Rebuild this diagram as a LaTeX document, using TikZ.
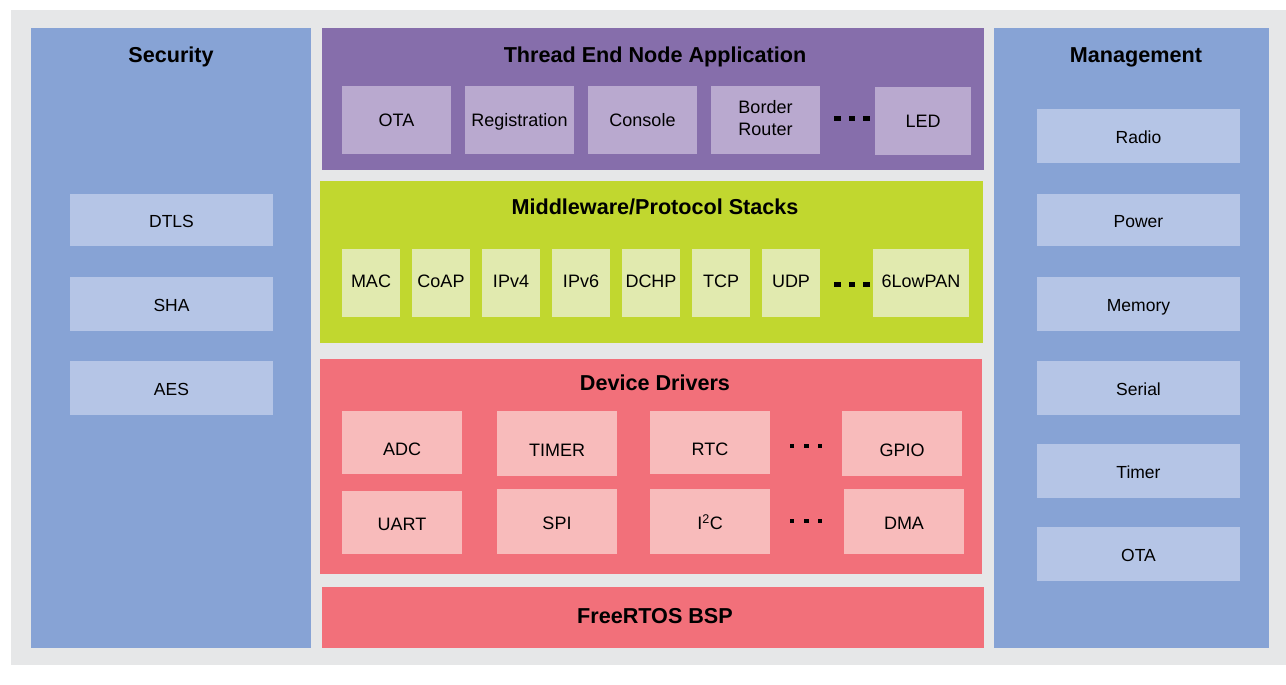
\documentclass[tikz,border=0pt]{standalone}
\usepackage{fontspec}
\setmainfont{Liberation Sans}
\definecolor{bgg}{HTML}{E6E7E8}
\definecolor{blueP}{HTML}{87A3D5}
\definecolor{blueB}{HTML}{B5C5E6}
\definecolor{purP}{HTML}{866EAB}
\definecolor{purB}{HTML}{B9A9CF}
\definecolor{grnP}{HTML}{C1D72F}
\definecolor{grnB}{HTML}{E1EAAF}
\definecolor{redP}{HTML}{F2707A}
\definecolor{redB}{HTML}{F8BBBB}
\tikzset{
  blk/.style={inner sep=0pt, outer sep=0pt, draw=none, anchor=north west, align=center},
  panelblue/.style={blk, fill=blueP},
  boxblue/.style={blk, fill=blueB, font=\fontsize{17.5}{20}\selectfont, text height=15.5pt, text depth=0pt},
  panelpur/.style={blk, fill=purP},
  boxpurbase/.style={blk, fill=purB, font=\fontsize{18}{22}\selectfont},
  boxpur/.style={boxpurbase, text height=12.9pt, text depth=0pt},
  panelgrn/.style={blk, fill=grnP},
  boxgrn/.style={blk, fill=grnB, font=\fontsize{18}{20}\selectfont, text height=12.9pt, text depth=3.2pt},
  panelred/.style={blk, fill=redP},
  boxred/.style={blk, fill=redB, font=\fontsize{18}{20}\selectfont, text height=25pt, text depth=0pt},
  boxredlow/.style={blk, fill=redB, font=\fontsize{18}{20}\selectfont, text height=15.9pt, text depth=0pt},
  ttl/.style={inner sep=0pt, font=\bfseries\fontsize{21.6}{24}\selectfont, text height=15.5pt, text depth=0pt},
  lbl/.style={inner sep=0pt, align=center, font=\fontsize{18}{22}\selectfont},
  dotsq/.style={fill=black, draw=none},
}
\newcommand{\mybox}[7]{\node[#1, minimum width={#4-#2}, minimum height={#5-#3}] (#6) at (#2,-#3) {#7};}
\newcommand{\sqdot}[4]{\fill[dotsq] ({#1-#3},{-#2+#4}) rectangle ({#1+#3},{-#2-#4});}
\begin{document}
\begin{tikzpicture}[x=1pt,y=1pt]
\useasboundingbox (0,0) rectangle (1286,-685);
\fill[bgg] (11,-10) rectangle (1286,-665);
% Security
\mybox{panelblue}{31}{28}{311}{648}{sec}{}
\node[ttl] (sectitle) at (171,-54.5) {Security};
\mybox{boxblue}{70}{194}{273}{246}{dtls}{DTLS}
\mybox{boxblue}{70}{277}{273}{331}{sha}{SHA}
\mybox{boxblue}{70}{361}{273}{415}{aes}{AES}
% Management
\mybox{panelblue}{994}{28}{1269}{648}{mgmt}{}
\node[ttl] (mgmttitle) at (1136,-54.5) {Management};
\mybox{boxblue}{1037}{109}{1240}{163}{radio}{Radio}
\mybox{boxblue}{1037}{194}{1240}{246}{power}{Power}
\mybox{boxblue}{1037}{277}{1240}{331}{memory}{Memory}
\mybox{boxblue}{1037}{361}{1240}{415}{serial}{Serial}
\mybox{boxblue}{1037}{444}{1240}{498}{timer}{Timer}
\mybox{boxblue}{1037}{527}{1240}{581}{mota}{OTA}
% Application
\mybox{panelpur}{322}{28}{984}{170}{app}{}
\node[ttl] (apptitle) at (655,-54.5) {Thread End Node Application};
\mybox{boxpur}{342}{86}{451}{154}{aota}{OTA}
\mybox{boxpur}{465}{86}{574}{154}{reg}{Registration}
\mybox{boxpur}{588}{86}{697}{154}{cons}{Console}
\mybox{boxpurbase}{711}{86}{820}{154}{br}{}
\node[lbl] (brlbl) at ([yshift=2pt]br.center) {Border\\Router};
\mybox{boxpur}{875}{87}{971}{155}{led}{LED}
\sqdot{837.3}{118.8}{3.2}{2.5}\sqdot{852.2}{118.8}{3.2}{2.5}\sqdot{866.3}{118.8}{3.2}{2.5}
% Middleware
\mybox{panelgrn}{320}{181}{983}{343}{mid}{}
\node[ttl] (midtitle) at (655,-206.7) {Middleware/Protocol Stacks};
\mybox{boxgrn}{342}{249}{400}{317}{mac}{MAC}
\mybox{boxgrn}{412}{249}{470}{317}{coap}{CoAP}
\mybox{boxgrn}{482}{249}{540}{317}{ipv4}{IPv4}
\mybox{boxgrn}{552}{249}{610}{317}{ipv6}{IPv6}
\mybox{boxgrn}{622}{249}{680}{317}{dchp}{DCHP}
\mybox{boxgrn}{692}{249}{750}{317}{tcp}{TCP}
\mybox{boxgrn}{762}{249}{820}{317}{udp}{UDP}
\mybox{boxgrn}{873}{249}{969}{317}{lowpan}{6LowPAN}
\sqdot{837.3}{284.8}{3.2}{2.5}\sqdot{852.2}{284.8}{3.2}{2.5}\sqdot{866.3}{284.8}{3.2}{2.5}
% Device drivers
\mybox{panelred}{320}{359}{982}{574}{drv}{}
\node[ttl] (drvtitle) at (655,-383.2) {Device Drivers};
\mybox{boxred}{342}{411}{462}{474}{adc}{ADC}
\mybox{boxred}{497}{411}{617}{476}{tmr}{TIMER}
\mybox{boxred}{650}{411}{770}{474}{rtc}{RTC}
\mybox{boxred}{842}{411}{962}{476}{gpio}{GPIO}
\mybox{boxredlow}{342}{491}{462}{554}{uart}{UART}
\mybox{boxredlow}{497}{489}{617}{554}{spi}{SPI}
\mybox{boxredlow}{650}{489}{770}{554}{iic}{I\textsuperscript{2}C}
\mybox{boxredlow}{844}{489}{964}{554}{dma}{DMA}
\sqdot{791.9}{446.2}{2.2}{1.9}\sqdot{806.3}{446.2}{2.2}{1.9}\sqdot{819.9}{446.2}{2.2}{1.9}
\sqdot{791.9}{521.2}{2.2}{1.9}\sqdot{806.3}{521.2}{2.2}{1.9}\sqdot{819.9}{521.2}{2.2}{1.9}
% BSP
\mybox{panelred}{322}{587}{984}{648}{bsp}{}
\node[ttl] (bsptitle) at (655,-616.2) {FreeRTOS BSP};
\end{tikzpicture}
\end{document}
